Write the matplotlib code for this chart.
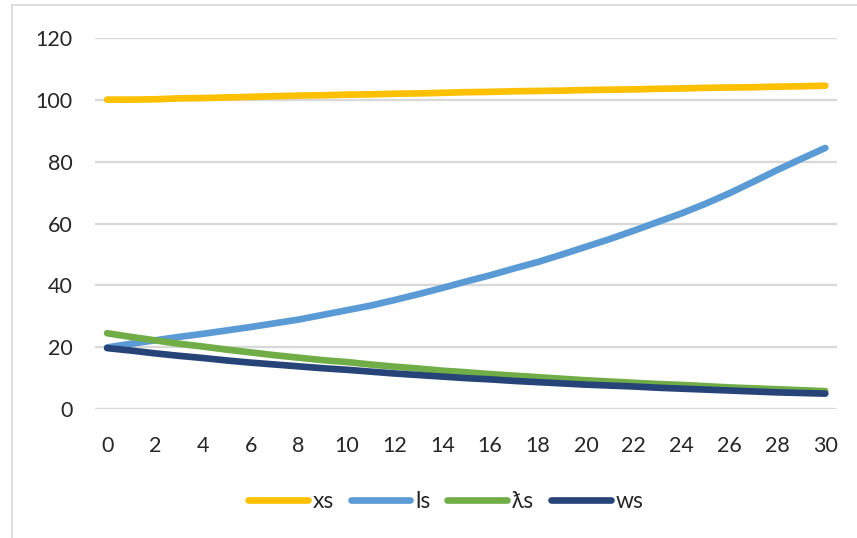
import matplotlib.pyplot as plt
from matplotlib.lines import Line2D

plt.rcParams['font.family'] = ['Lato', 'DejaVu Sans']

# time steps and the four series
t = list(range(31))
xs = [100.0, 100.0, 100.1, 100.4, 100.5, 100.7, 100.9, 101.1, 101.3, 101.4,
      101.6, 101.7, 101.9, 102.0, 102.2, 102.4, 102.5, 102.7, 102.8, 102.9,
      103.1, 103.2, 103.3, 103.5, 103.6, 103.8, 103.9, 104.0, 104.2, 104.3, 104.5]
ls = [20.0, 21.2, 22.3, 23.4, 24.4, 25.5, 26.6, 27.8, 29.0, 30.5,
      32.0, 33.5, 35.3, 37.2, 39.2, 41.3, 43.3, 45.5, 47.6, 50.0,
      52.5, 55.0, 57.7, 60.5, 63.3, 66.4, 69.8, 73.5, 77.3, 80.9, 84.4]
lams = [24.6, 23.4, 22.3, 21.2, 20.3, 19.3, 18.4, 17.5, 16.7, 15.9,
        15.3, 14.5, 13.8, 13.2, 12.5, 12.0, 11.4, 10.9, 10.4, 9.9,
        9.4, 9.0, 8.6, 8.2, 7.9, 7.5, 7.1, 6.8, 6.5, 6.2, 5.9]
ws = [19.8, 19.0, 18.1, 17.3, 16.6, 15.8, 15.1, 14.5, 13.9, 13.3,
      12.8, 12.2, 11.6, 11.1, 10.6, 10.1, 9.7, 9.2, 8.8, 8.4,
      8.0, 7.7, 7.4, 7.0, 6.7, 6.4, 6.1, 5.8, 5.5, 5.3, 5.1]
names = ['xs', 'ls', 'ƛs', 'ws']
colors = ['#FFC000', '#5B9BD5', '#70AD47', '#264478']

fig = plt.figure(figsize=(8.57, 5.38), dpi=100)
ax = fig.add_axes([0.111, 0.239, 0.866, 0.691])

for ys, name, c in zip([xs, ls, lams, ws], names, colors):
    ax.plot(t, ys, color=c, lw=4.8, label=name,
            solid_capstyle='round', solid_joinstyle='round')

ax.set_xlim(-0.5, 30.5)
ax.set_ylim(0, 120)
ax.set_xticks(range(0, 31, 2))
ax.set_yticks(range(0, 121, 20))
ax.grid(axis='y', color='#D9D9D9', lw=1.7)
ax.set_axisbelow(True)
for s in ax.spines.values():
    s.set_visible(False)
ax.tick_params(length=0, labelsize=15.5, colors='#262626')
ax.tick_params(axis='x', pad=19)
ax.tick_params(axis='y', pad=16)

leg = fig.legend(loc='center', bbox_to_anchor=(0.52, 0.068), ncol=4,
                 frameon=False, fontsize=16.5, handlelength=2.6,
                 handletextpad=0.2, columnspacing=0.75)
for txt in leg.get_texts():
    txt.set_color('#262626')

# chart frame edges
fig.add_artist(Line2D([0.014, 0.014], [0, 0.991], color='#D9D9D9', lw=1.2))
fig.add_artist(Line2D([0.014, 1.0], [0.991, 0.991], color='#D9D9D9', lw=1.2))

fig.savefig('out.png', dpi=100)
